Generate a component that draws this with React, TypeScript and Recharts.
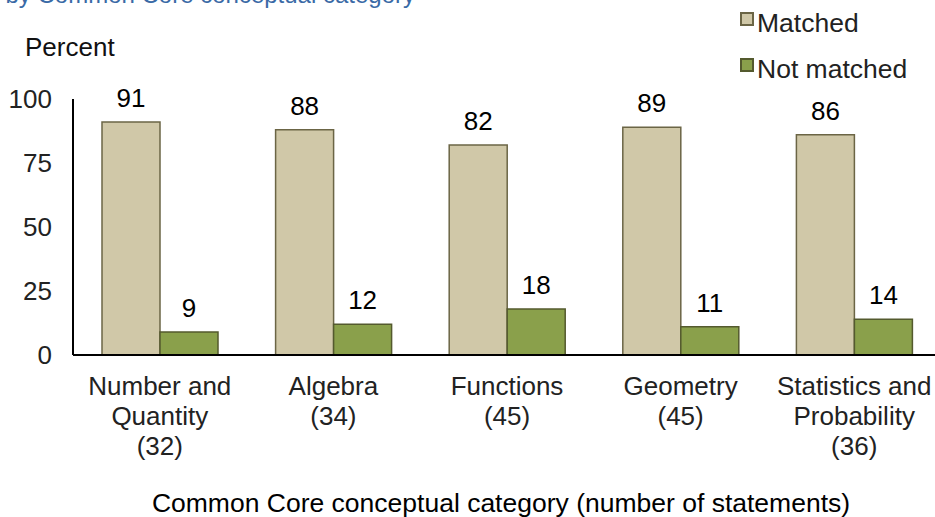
import React from "react";
import {
  BarChart,
  Bar,
  XAxis,
  YAxis,
  LabelList,
} from "recharts";

const categories = [
  ["Number and", "Quantity", "(32)"],
  ["Algebra", "(34)"],
  ["Functions", "(45)"],
  ["Geometry", "(45)"],
  ["Statistics and", "Probability", "(36)"],
];
const matched = [91, 88, 82, 89, 86];
const notMatched = [9, 12, 18, 11, 14];
const yTicks = [0, 25, 50, 75, 100];

const data = categories.map((lines, i) => ({
  name: lines.join(" "),
  matched: matched[i],
  notMatched: notMatched[i],
}));

const FONT = "'Liberation Sans', Arial, sans-serif";
const MATCHED_FILL = "#d0c8a8";
const MATCHED_STROKE = "#6b6545";
const NOT_FILL = "#8aa04b";
const NOT_STROKE = "#545a2e";

const CategoryTick = (props: any) => {
  const { x, y, payload, index } = props;
  const lines = categories[index] || [payload.value];
  return (
    <text x={x} y={y} textAnchor="middle" fill="#222" fontSize={26} fontFamily={FONT}>
      {lines.map((l: string, i: number) => (
        <tspan key={i} x={x} dy={i === 0 ? 32 : 30}>
          {l}
        </tspan>
      ))}
    </text>
  );
};

const legendItems = [
  { label: "Matched", fill: MATCHED_FILL, stroke: MATCHED_STROKE },
  { label: "Not matched", fill: NOT_FILL, stroke: NOT_STROKE },
];

export default function App() {
  return (
    <div
      style={{
        position: "absolute",
        top: 0,
        left: 0,
        width: 935,
        height: 517,
        overflow: "hidden",
        background: "#fff",
        fontFamily: FONT,
      }}
    >
      <style>{`body{margin:0}`}</style>
      <div
        style={{
          position: "absolute",
          top: -19,
          right: 520,
          whiteSpace: "nowrap",
          color: "#3a6aa6",
          fontSize: 24,
        }}
      >
        by Common Core conceptual category
      </div>
      <div
        style={{
          position: "absolute",
          top: 32,
          left: 25,
          fontSize: 26,
          color: "#111",
        }}
      >
        Percent
      </div>
      <div
        style={{
          position: "absolute",
          top: 0,
          left: 740,
          fontSize: 26.5,
          color: "#222",
          lineHeight: "46px",
        }}
      >
        {legendItems.map((d) => (
          <div key={d.label} style={{ display: "flex", alignItems: "center" }}>
            <span
              style={{
                display: "inline-block",
                width: 10,
                height: 10,
                background: d.fill,
                border: `2px solid ${d.stroke}`,
                marginRight: 3,
                marginTop: -8,
              }}
            />
            {d.label}
          </div>
        ))}
      </div>
      <BarChart
        width={941}
        height={517}
        data={data}
        margin={{ top: 99, right: 0, bottom: 0, left: 0 }}
        barGap={0}
        barCategoryGap={29}
      >
        <YAxis
          width={73}
          domain={[0, 100]}
          ticks={yTicks}
          tickLine={false}
          tickMargin={15}
          axisLine={{ stroke: "#000", strokeWidth: 2 }}
          tick={{ fill: "#222", fontSize: 26, fontFamily: FONT }}
        />
        <XAxis
          dataKey="name"
          height={162}
          interval={0}
          tickLine={false}
          axisLine={{ stroke: "#000", strokeWidth: 2 }}
          tick={<CategoryTick />}
          label={{
            value: "Common Core conceptual category (number of statements)",
            position: "insideBottom",
            offset: 5,
            dx: -6,
            fill: "#000",
            fontSize: 26.5,
            fontFamily: FONT,
          }}
        />
        <Bar
          dataKey="matched"
          name="Matched"
          fill={MATCHED_FILL}
          stroke={MATCHED_STROKE}
          strokeWidth={1.5}
          isAnimationActive={false}
        >
          <LabelList
            dataKey="matched"
            position="top"
            offset={15}
            fill="#000"
            fontSize={26}
            fontFamily={FONT}
          />
        </Bar>
        <Bar
          dataKey="notMatched"
          name="Not matched"
          fill={NOT_FILL}
          stroke={NOT_STROKE}
          strokeWidth={1.5}
          isAnimationActive={false}
        >
          <LabelList
            dataKey="notMatched"
            position="top"
            offset={15}
            fill="#000"
            fontSize={26}
            fontFamily={FONT}
          />
        </Bar>
      </BarChart>
    </div>
  );
}
